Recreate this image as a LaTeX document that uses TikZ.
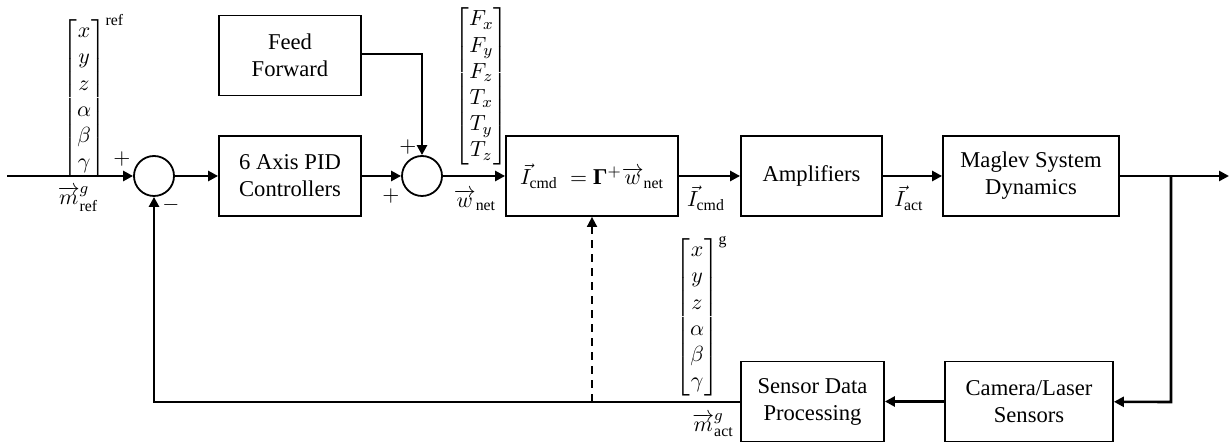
\documentclass[tikz,border=0pt]{standalone}
\usepackage{amsmath}
\usepackage{fontspec}
\setmainfont{Liberation Serif}
\usetikzlibrary{arrows.meta,positioning}
\renewcommand{\arraystretch}{0.97}

\begin{document}
\begin{tikzpicture}[x=0.5pt,y=-0.5pt,line join=miter,
  every node/.style={font=\fontsize{11.3pt}{13.5pt}\selectfont},
  blk/.style={draw,line width=0.9pt,minimum width=#1,minimum height=40pt,align=center,inner sep=0pt},
  sumnode/.style={draw,circle,line width=0.9pt,minimum size=20pt,inner sep=0pt},
  sig/.style={line width=1.3pt,-{Triangle[length=5pt,width=5pt]}},
  colvec/.style={anchor=north west,inner sep=0pt}]
  \useasboundingbox (0,0) rectangle (1230,442);
  % blocks
  \node[blk=71pt] (ff) at (290,55.5) {Feed\\Forward};
  \node[blk=71pt] (pid) at (290,176) {6 Axis PID\\Controllers};
  \node[blk=86pt] (alloc) at (592,176) {$\vec{I}_{\mathrm{cmd}}\; = \text{\textbf{Γ}}^{+}\overrightarrow{w}_{\mathrm{net}}$};
  \node[blk=70.5pt] (amp) at (811.5,176) {Amplifiers};
  \node[blk=88pt] (plant) at (1031,176) {Maglev System\\Dynamics};
  \node[blk=71.5pt] (sdp) at (812.5,401.5) {Sensor Data\\Processing};
  \node[blk=84pt] (cam) at (1029,401.5) {Camera/Laser\\Sensors};
  \node[sumnode] (sum1) at (154,176) {};
  \node[sumnode] (sum2) at (422,176) {};
  % helper points
  \coordinate (in) at (7,176);
  \coordinate (out) at (1229,176);
  \coordinate (br) at (1171,176);
  \coordinate (brdown) at (1171,402);
  \coordinate (fbcorner) at (154,402);
  \coordinate (ffcorner) at (422,54);
  \coordinate (dash) at (592,402);
  % forward path
  \draw[sig] (in) -- (sum1);
  \draw[sig] (sum1) -- (pid);
  \draw[sig] (pid) -- (sum2);
  \draw[sig] (sum2) -- (alloc);
  \draw[sig] (alloc) -- (amp);
  \draw[sig] (amp) -- (plant);
  \draw[sig] (plant) -- (out);
  \draw[sig] (ff.east |- ffcorner) -- (ffcorner) -- (sum2);
  % feedback path
  \draw[sig] (br) -- (brdown) -- (cam);
  \draw[sig] (cam) -- (sdp);
  \draw[sig] (sdp.west |- fbcorner) -- (fbcorner) -- (sum1);
  \draw[sig,line width=0.9pt,dash pattern=on 4pt off 3pt] (dash) -- (alloc);
  % signs
  \node (p1) at (122,159) {$+$};
  \node (m1) at (171,205) {$-$};
  \node (p2) at (408,147) {$+$};
  \node (p3) at (391,196) {$+$};
  % signal labels
  \node (mref) at (78,199) {$\overrightarrow{m}^{g}_{\mathrm{ref}}$};
  \node (wnet) at (475,200) {$\overrightarrow{w}_{\mathrm{net}}$};
  \node (icmd) at (706,198) {$\vec{I}_{\mathrm{cmd}}$};
  \node (iact) at (909,198) {$\vec{I}_{\mathrm{act}}$};
  \node (mact) at (713,425) {$\overrightarrow{m}^{g}_{\mathrm{act}}$};
  % column vectors
  \node[colvec] (vref) at (62,14) {$\begin{bmatrix} x\\ y\\ z\\ \alpha\\ \beta\\ \gamma \end{bmatrix}^{\mathrm{ref}}$};
  \node[colvec] (vw) at (454,7) {$\begin{bmatrix} F_x\\ F_y\\ F_z\\ T_x\\ T_y\\ T_z \end{bmatrix}$};
  \node[colvec] (vg) at (675,236) {$\begin{bmatrix} x\\ y\\ z\\ \alpha\\ \beta\\ \gamma \end{bmatrix}^{\mathrm{g}}$};
\end{tikzpicture}
\end{document}
